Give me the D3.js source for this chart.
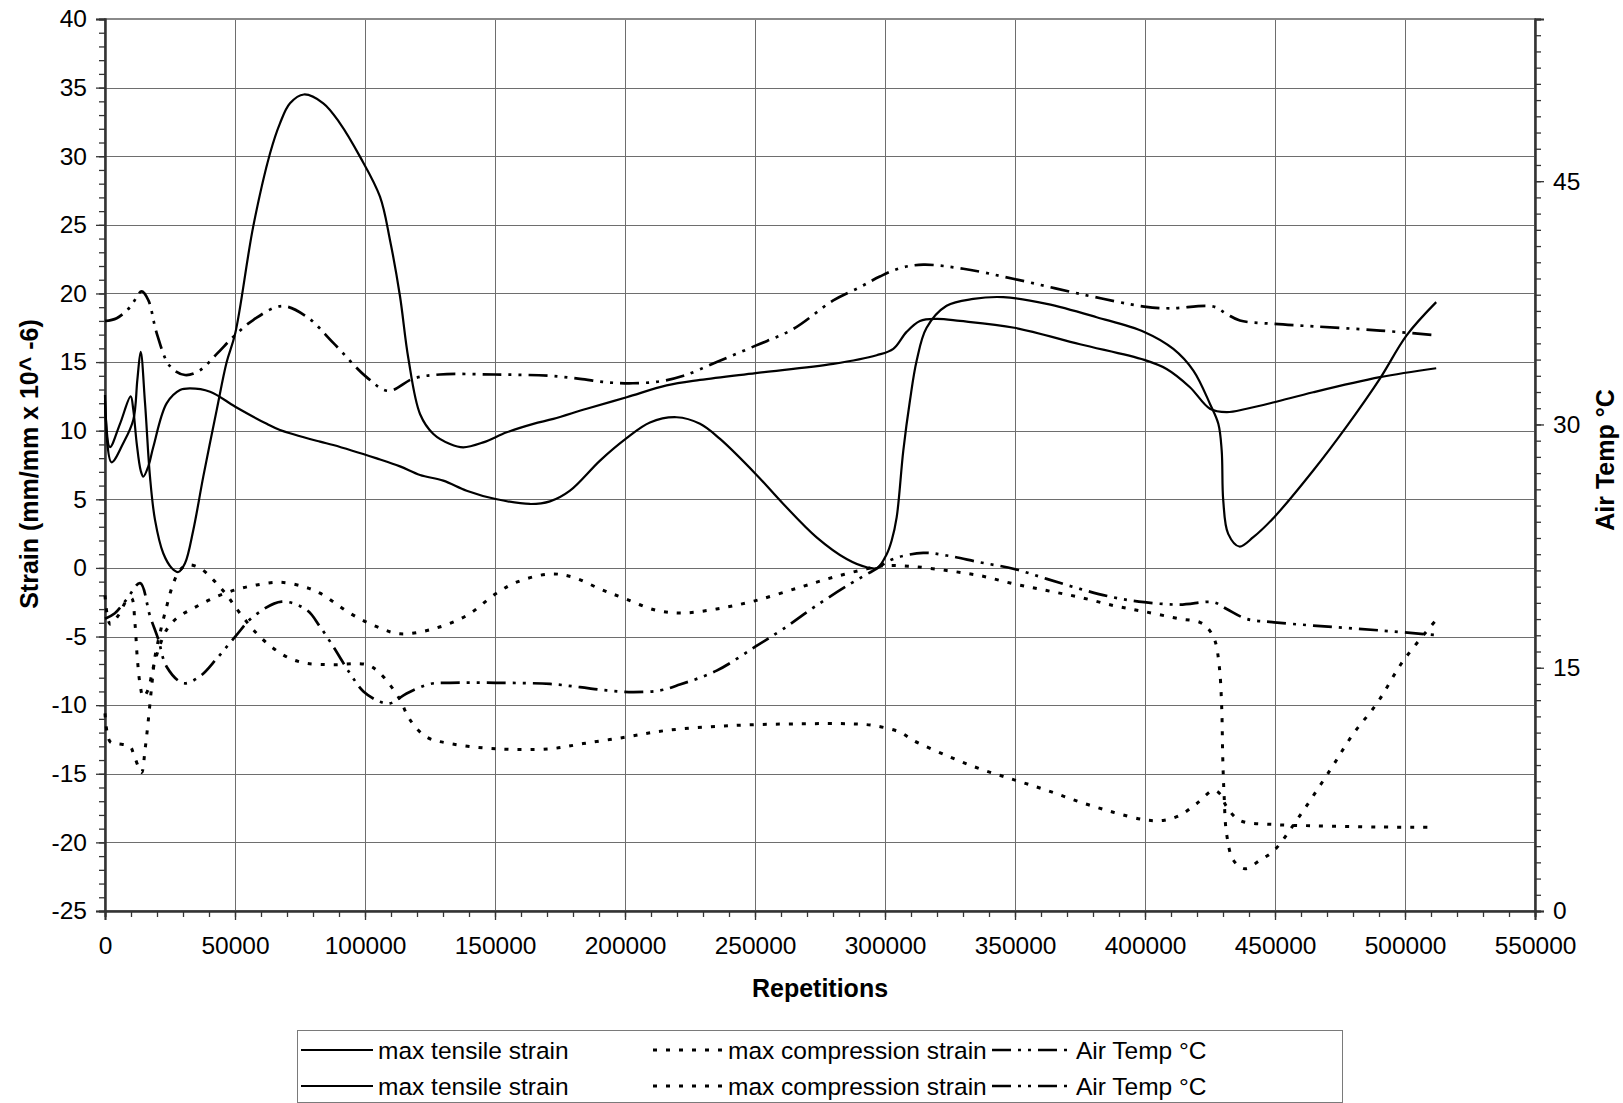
<!DOCTYPE html>
<html>
<head>
<meta charset="utf-8">
<script src="https://cdn.jsdelivr.net/npm/d3@7"></script>
<style>
  html, body { margin: 0; padding: 0; background: #fff; }
  svg { display: block; font-family: "Liberation Sans", Arial, sans-serif; }
</style>
</head>
<body>
<svg id="chart" width="1623" height="1103"></svg>
<script>
// Repetitions vs strain (left axis) and air temperature (right axis).
// Each series: [repetitions, value]

const tensileA = [
  [0, 12.6], [2500, 7.7], [7050, 9.1], [10900, 10.8], [12440, 13.7], [13720, 15.75],
  [15400, 12.0], [17300, 6.65], [19230, 3.5], [22400, 1.07], [25640, 0.0], [28200, -0.3],
  [30770, 0.34], [33970, 2.77], [37800, 6.65], [42950, 11.5], [46800, 15.0], [50100, 17.1],
  [57000, 24.87], [63460, 30.2], [67300, 32.4], [71150, 33.86], [76500, 34.5], [83960, 33.86],
  [90380, 32.4], [98070, 29.97], [105760, 27.05], [109600, 23.9], [113460, 19.8], [116650, 15.3],
  [121200, 11.2], [126300, 9.76], [132700, 9.03], [137800, 8.79], [145500, 9.15], [154500, 9.88],
  [164760, 10.5], [172450, 10.86], [185270, 11.6], [200650, 12.44], [216000, 13.3], [228850, 13.7],
  [250250, 14.2], [280100, 14.87], [296800, 15.5], [303200, 15.96], [308300, 17.2], [313450, 18.0],
  [319860, 18.15], [328830, 18.0], [349730, 17.5], [374990, 16.3], [399730, 15.16], [408300, 14.5],
  [417290, 13.17], [424980, 11.6], [431400, 11.35], [439090, 11.6], [449700, 12.07], [464700, 12.8],
  [490360, 13.9], [512000, 14.55]
];

const tensileB = [
  [0, 12.2], [1900, 8.8], [5770, 10.5], [9870, 12.5], [10900, 11.5], [12180, 9.1], [13720, 7.1],
  [14740, 6.65], [16670, 7.4], [18600, 8.83], [23700, 11.99], [28850, 12.96], [32700, 13.08],
  [40400, 12.84], [50100, 11.75], [62200, 10.5], [67300, 10.05], [82700, 9.2], [87800, 8.96],
  [104500, 7.98], [113460, 7.4], [121150, 6.77], [130100, 6.36], [139100, 5.63], [150250, 5.02],
  [163450, 4.66], [171150, 4.85], [178850, 5.63], [190400, 7.82], [200250, 9.4], [209600, 10.6],
  [219900, 10.98], [228850, 10.5], [236550, 9.4], [250250, 6.85], [260900, 4.66], [273700, 2.23],
  [285250, 0.65], [292950, 0.05], [297000, 0.0], [300650, 1.0], [302570, 2.0], [304500, 3.7],
  [307040, 8.55], [309600, 12.2], [312170, 15.1], [316000, 17.5], [323700, 19.1], [333960, 19.6],
  [345500, 19.73], [362200, 19.24], [381400, 18.27], [399700, 17.2], [410900, 15.96], [418600, 14.38],
  [425000, 11.95], [428200, 10.5], [429500, 8.55], [430100, 4.9], [432000, 2.48], [436300, 1.56],
  [441650, 2.24], [449700, 3.7], [464700, 7.1], [477500, 10.3], [490360, 13.8], [500620, 16.95],
  [512000, 19.37]
];

const compressionA = [
  [0, -10.6], [1900, -12.65], [4500, -12.8], [9600, -13.0], [10900, -13.5], [12800, -14.47],
  [14100, -14.9], [15400, -13.25], [16670, -11.07], [17950, -8.64], [19230, -6.46], [21150, -4.76],
  [23700, -2.82], [26280, -1.12], [28850, -0.15], [32050, 0.22], [36540, -0.02], [41660, -0.87],
  [46800, -1.97], [51900, -3.3], [58300, -4.76], [64700, -5.85], [71150, -6.6], [77560, -6.95],
  [87800, -7.05], [100650, -7.05], [105800, -7.68], [113460, -9.6], [116000, -10.63], [118600, -11.4],
  [123700, -12.33], [132700, -12.8], [150250, -13.18], [171150, -13.18], [183950, -12.8], [200250, -12.33],
  [216000, -11.84], [241660, -11.48], [267300, -11.36], [286500, -11.36], [295500, -11.48], [305760, -11.97],
  [310900, -12.57], [323700, -13.67], [336500, -14.64], [349700, -15.44], [362200, -16.2], [375000, -17.06],
  [387800, -17.8], [399700, -18.35], [407000, -18.4], [413400, -18.03], [419800, -17.18], [426300, -16.21],
  [428800, -16.46], [431400, -17.4], [436500, -18.4], [449700, -18.7], [464700, -18.79], [490360, -18.88],
  [512000, -18.9]
];

const compressionB = [
  [0, -2.0], [2000, -4.1], [5000, -3.5], [8300, -2.4], [10200, -2.2], [11500, -4.0], [12400, -6.5],
  [13500, -8.5], [14700, -9.4], [16500, -8.9], [18500, -7.3], [20500, -6.0], [23700, -4.5],
  [28000, -3.6], [34000, -2.94], [41600, -2.2], [50100, -1.6], [58300, -1.24], [67300, -1.04],
  [76300, -1.36], [82700, -1.84], [94200, -3.3], [104500, -4.28], [113460, -4.8], [126300, -4.44],
  [139100, -3.47], [150250, -1.89], [158300, -1.04], [171150, -0.44], [180100, -0.68], [190400, -1.53],
  [200250, -2.26], [212200, -3.1], [222400, -3.28], [235250, -2.99], [250250, -2.38], [267300, -1.41],
  [280100, -0.68], [292950, -0.07], [300250, 0.17], [310900, 0.1], [323700, -0.19], [336500, -0.56],
  [349700, -1.17], [362200, -1.65], [375000, -2.14], [387800, -2.74], [399700, -3.18], [413400, -3.71],
  [421100, -3.96], [424340, -4.44], [426900, -5.3], [428600, -7.23], [429500, -10.15], [429900, -13.8],
  [430400, -16.46], [431400, -19.4], [434000, -21.3], [438450, -21.92], [444200, -21.3], [449700, -20.58],
  [458300, -18.4], [471100, -14.76], [480100, -12.09], [489100, -9.9], [499330, -6.77], [511500, -3.9]
];

// Air temperature in °C (right axis)
const airTempA = [
  [0, 36.38], [4500, 36.55], [9600, 37.23], [14100, 38.2], [16700, 37.65], [19900, 35.62],
  [25000, 33.59], [30800, 33.05], [36500, 33.34], [43000, 34.35], [49400, 35.41], [57000, 36.44],
  [68000, 37.3], [77600, 36.64], [87800, 35.03], [100600, 32.92], [109000, 32.07], [118600, 32.83],
  [128800, 33.08], [150000, 33.08], [171000, 33.0], [182700, 32.81], [193000, 32.6], [203000, 32.54],
  [213500, 32.66], [222500, 33.0], [235300, 33.85], [250250, 34.86], [264750, 35.89], [280100, 37.65],
  [290400, 38.47], [298000, 39.12], [305800, 39.64], [314750, 39.85], [330100, 39.6], [349700, 38.97],
  [375000, 38.05], [399700, 37.27], [409600, 37.16], [426300, 37.27], [431400, 36.81], [436500, 36.41],
  [449700, 36.2], [464700, 36.05], [490400, 35.79], [512000, 35.5]
];

const airTempB = [
  [0, 18.02], [3800, 18.36], [8300, 19.21], [13500, 20.22], [17300, 18.19], [20500, 16.75],
  [23700, 15.06], [30100, 14.05], [36500, 14.47], [43000, 15.57], [50100, 16.92], [57000, 18.15],
  [68000, 19.07], [77600, 18.56], [82700, 17.53], [87800, 16.3], [94200, 14.66], [99400, 13.54],
  [105800, 12.9], [109600, 12.8], [116000, 13.41], [125000, 14.0], [132700, 14.07], [150250, 14.07],
  [171150, 14.0], [182700, 13.8], [193000, 13.6], [203200, 13.5], [213500, 13.6], [221100, 13.96],
  [235250, 14.82], [250250, 16.31], [260900, 17.4], [273700, 18.84], [286500, 20.16], [295500, 20.99],
  [303200, 21.71], [314700, 22.08], [323700, 21.92], [336500, 21.5], [349700, 21.09], [362200, 20.48],
  [375000, 19.86], [387800, 19.34], [399700, 19.04], [413400, 18.89], [426300, 19.04], [431400, 18.62],
  [439100, 18.01], [449700, 17.8], [464700, 17.6], [490400, 17.3], [512000, 17.01]
];

const xTicks = [0, 50000, 100000, 150000, 200000, 250000, 300000, 350000, 400000, 450000, 500000, 550000];
const strainTicks = [-25, -20, -15, -10, -5, 0, 5, 10, 15, 20, 25, 30, 35, 40];
const tempTicks = [0, 15, 30, 45];

const legendNames = ["max tensile strain", "max compression strain", "Air Temp °C"];

// ---------- layout ----------
const plot = { left: 105, right: 1535, top: 19, bottom: 911 };
const FONT = 24.5;
const TITLE_FONT = 25;
const INK = "#000";
const GRID = "#6e6e6e";
const plain = d => String(d);   // hyphen-minus for negatives

const svg = d3.select("#chart");

const x = d3.scaleLinear().domain([0, 550000]).range([plot.left, plot.right]);
const yS = d3.scaleLinear().domain([-25, 40]).range([plot.bottom, plot.top]);
const yT = d3.scaleLinear().domain([0, 55]).range([plot.bottom, plot.top]);

// gridlines
const grid = svg.append("g").attr("stroke", GRID).attr("stroke-width", 1).attr("shape-rendering", "crispEdges");
grid.selectAll("line.h").data(strainTicks).join("line")
  .attr("x1", plot.left).attr("x2", plot.right)
  .attr("y1", d => Math.round(yS(d)) + 0.5).attr("y2", d => Math.round(yS(d)) + 0.5);
grid.selectAll("line.v").data(xTicks).join("line")
  .attr("y1", plot.top).attr("y2", plot.bottom)
  .attr("x1", d => Math.round(x(d)) + 0.5).attr("x2", d => Math.round(x(d)) + 0.5);

// plot frame
svg.append("rect")
  .attr("x", plot.left).attr("y", plot.top)
  .attr("width", plot.right - plot.left).attr("height", plot.bottom - plot.top)
  .attr("fill", "none").attr("stroke", "#8a8a8a").attr("stroke-width", 2);

function styleAxis(g, labels) {
  g.select(".domain").attr("stroke", "#333").attr("stroke-width", 2);
  g.selectAll(".tick line").attr("stroke", "#333").attr("stroke-width", 1.3);
  g.selectAll(".tick text")
    .attr("fill", INK)
    .attr("font-size", FONT)
    .attr("font-family", "'Liberation Sans', Arial, sans-serif")
    .style("display", labels ? null : "none");
}

// minor ticks
const gLeftMinor = svg.append("g").attr("transform", `translate(${plot.left},0)`)
  .call(d3.axisLeft(yS).tickValues(d3.range(-25, 41, 1)).tickSize(6).tickFormat(""));
styleAxis(gLeftMinor, false);
const gRightMinor = svg.append("g").attr("transform", `translate(${plot.right},0)`)
  .call(d3.axisRight(yT).tickValues(d3.range(0, 56, 1)).tickSize(6).tickFormat(""));
styleAxis(gRightMinor, false);
const gBottomMinor = svg.append("g").attr("transform", `translate(0,${plot.bottom})`)
  .call(d3.axisBottom(x).tickValues(d3.range(0, 550001, 10000)).tickSize(6).tickFormat(""));
styleAxis(gBottomMinor, false);

// major ticks + labels
const gLeft = svg.append("g").attr("transform", `translate(${plot.left},0)`)
  .call(d3.axisLeft(yS).tickValues(strainTicks).tickSize(9).tickPadding(9).tickFormat(plain));
styleAxis(gLeft, true);
const gRight = svg.append("g").attr("transform", `translate(${plot.right},0)`)
  .call(d3.axisRight(yT).tickValues(tempTicks).tickSize(9).tickPadding(9).tickFormat(plain));
styleAxis(gRight, true);
const gBottom = svg.append("g").attr("transform", `translate(0,${plot.bottom})`)
  .call(d3.axisBottom(x).tickValues(xTicks).tickSize(9).tickPadding(17).tickFormat(plain));
styleAxis(gBottom, true);

// axis titles
svg.append("text")
  .attr("transform", `translate(29,464) rotate(-90)`)
  .attr("text-anchor", "middle").attr("dominant-baseline", "central")
  .attr("font-weight", "bold").attr("font-size", TITLE_FONT).attr("fill", INK)
  .text("Strain (mm/mm x 10^ -6)");
svg.append("text")
  .attr("x", (plot.left + plot.right) / 2).attr("y", 988)
  .attr("text-anchor", "middle").attr("dominant-baseline", "central")
  .attr("font-weight", "bold").attr("font-size", TITLE_FONT).attr("fill", INK)
  .text("Repetitions");
svg.append("text")
  .attr("transform", `translate(1605,460) rotate(-90)`)
  .attr("text-anchor", "middle").attr("dominant-baseline", "central")
  .attr("font-weight", "bold").attr("font-size", TITLE_FONT).attr("fill", INK)
  .text("Air Temp °C");

// ---------- series ----------
const styles = {
  tensile: { width: 2.2, dash: null },
  compression: { width: 3, dash: "4 9" },
  temp: { width: 2.7, dash: "19 7 3 7 3 7" }
};

const lineS = d3.line().x(d => x(d[0])).y(d => yS(d[1])).curve(d3.curveCatmullRom.alpha(0.5));
const lineT = d3.line().x(d => x(d[0])).y(d => yT(d[1])).curve(d3.curveCatmullRom.alpha(0.5));

const series = [
  { data: compressionA, gen: lineS, st: styles.compression },
  { data: compressionB, gen: lineS, st: styles.compression },
  { data: airTempA, gen: lineT, st: styles.temp },
  { data: airTempB, gen: lineT, st: styles.temp },
  { data: tensileA, gen: lineS, st: styles.tensile },
  { data: tensileB, gen: lineS, st: styles.tensile }
];

svg.append("g").selectAll("path").data(series).join("path")
  .attr("d", d => d.gen(d.data))
  .attr("fill", "none")
  .attr("stroke", INK)
  .attr("stroke-width", d => d.st.width)
  .attr("stroke-dasharray", d => d.st.dash)
  .attr("stroke-linejoin", "round");

// ---------- legend ----------
const legend = svg.append("g");
legend.append("rect")
  .attr("x", 297.5).attr("y", 1030.5).attr("width", 1045).attr("height", 72)
  .attr("fill", "#fff").attr("stroke", "#7a7a7a").attr("stroke-width", 1);

const legendCols = [
  { x1: 301, x2: 373, tx: 378, st: styles.tensile },
  { x1: 653, x2: 726, tx: 728, st: styles.compression },
  { x1: 992, x2: 1069, tx: 1076, st: styles.temp }
];
const legendRows = [1050, 1086];

legendRows.forEach(ry => {
  legendCols.forEach((c, i) => {
    legend.append("line")
      .attr("x1", c.x1).attr("x2", c.x2).attr("y1", ry).attr("y2", ry)
      .attr("stroke", INK).attr("stroke-width", c.st.width)
      .attr("stroke-dasharray", c.st.dash);
    legend.append("text")
      .attr("x", c.tx).attr("y", ry)
      .attr("dominant-baseline", "central")
      .attr("font-size", FONT).attr("fill", INK)
      .text(legendNames[i]);
  });
});
</script>
</body>
</html>
